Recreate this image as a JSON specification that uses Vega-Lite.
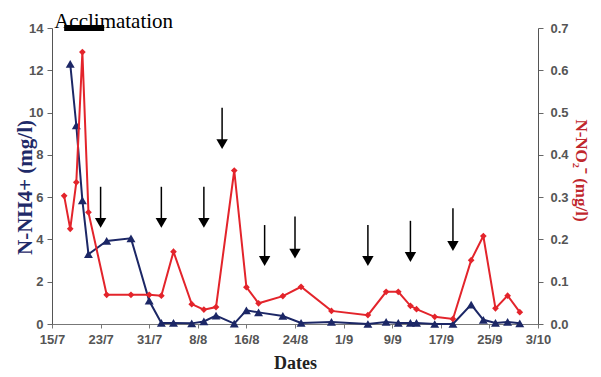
{
  "$schema": "https://vega.github.io/schema/vega-lite/v6.json",
  "width": 486,
  "height": 296,
  "autosize": {"type": "none"},
  "padding": {"left": 52, "top": 28, "right": 63, "bottom": 53},
  "background": "white",
  "config": {"view": {"stroke": null}, "font": "Liberation Sans"},
  "datasets": {
    "nh4": [
      {"date": "2007-07-18", "nh4": 12.3},
      {"date": "2007-07-19", "nh4": 9.4},
      {"date": "2007-07-20", "nh4": 5.85},
      {"date": "2007-07-21", "nh4": 3.3},
      {"date": "2007-07-24", "nh4": 3.93},
      {"date": "2007-07-28", "nh4": 4.05},
      {"date": "2007-07-31", "nh4": 1.1},
      {"date": "2007-08-02", "nh4": 0.05},
      {"date": "2007-08-04", "nh4": 0.05},
      {"date": "2007-08-07", "nh4": 0.03},
      {"date": "2007-08-09", "nh4": 0.12},
      {"date": "2007-08-11", "nh4": 0.4},
      {"date": "2007-08-14", "nh4": 0.02},
      {"date": "2007-08-16", "nh4": 0.65},
      {"date": "2007-08-18", "nh4": 0.55},
      {"date": "2007-08-22", "nh4": 0.38},
      {"date": "2007-08-25", "nh4": 0.05},
      {"date": "2007-08-30", "nh4": 0.1},
      {"date": "2007-09-05", "nh4": 0.0},
      {"date": "2007-09-08", "nh4": 0.1},
      {"date": "2007-09-10", "nh4": 0.05},
      {"date": "2007-09-12", "nh4": 0.05},
      {"date": "2007-09-13", "nh4": 0.05},
      {"date": "2007-09-16", "nh4": 0.0},
      {"date": "2007-09-19", "nh4": 0.0},
      {"date": "2007-09-22", "nh4": 0.92},
      {"date": "2007-09-24", "nh4": 0.2},
      {"date": "2007-09-26", "nh4": 0.05},
      {"date": "2007-09-28", "nh4": 0.1},
      {"date": "2007-09-30", "nh4": 0.03}
    ],
    "no2": [
      {"date": "2007-07-17", "no2": 0.303},
      {"date": "2007-07-18", "no2": 0.225},
      {"date": "2007-07-19", "no2": 0.335},
      {"date": "2007-07-20", "no2": 0.643},
      {"date": "2007-07-21", "no2": 0.264},
      {"date": "2007-07-24", "no2": 0.069},
      {"date": "2007-07-28", "no2": 0.069},
      {"date": "2007-07-31", "no2": 0.069},
      {"date": "2007-08-02", "no2": 0.067},
      {"date": "2007-08-04", "no2": 0.171},
      {"date": "2007-08-07", "no2": 0.047},
      {"date": "2007-08-09", "no2": 0.034},
      {"date": "2007-08-11", "no2": 0.04},
      {"date": "2007-08-14", "no2": 0.363},
      {"date": "2007-08-16", "no2": 0.087},
      {"date": "2007-08-18", "no2": 0.049},
      {"date": "2007-08-22", "no2": 0.066},
      {"date": "2007-08-25", "no2": 0.088},
      {"date": "2007-08-30", "no2": 0.031},
      {"date": "2007-09-05", "no2": 0.021},
      {"date": "2007-09-08", "no2": 0.076},
      {"date": "2007-09-10", "no2": 0.076},
      {"date": "2007-09-12", "no2": 0.043},
      {"date": "2007-09-13", "no2": 0.035},
      {"date": "2007-09-16", "no2": 0.017},
      {"date": "2007-09-19", "no2": 0.012},
      {"date": "2007-09-22", "no2": 0.151},
      {"date": "2007-09-24", "no2": 0.208},
      {"date": "2007-09-26", "no2": 0.037},
      {"date": "2007-09-28", "no2": 0.067},
      {"date": "2007-09-30", "no2": 0.028}
    ],
    "arrows": [
      {"date": "2007-07-23", "top": 6.49, "head": 4.78},
      {"date": "2007-08-02", "top": 6.49, "head": 4.78},
      {"date": "2007-08-09", "top": 6.49, "head": 4.78},
      {"date": "2007-08-12", "top": 10.23, "head": 8.51},
      {"date": "2007-08-19", "top": 4.68, "head": 2.98},
      {"date": "2007-08-24", "top": 5.08, "head": 3.33},
      {"date": "2007-09-05", "top": 4.68, "head": 2.98},
      {"date": "2007-09-12", "top": 4.88, "head": 3.17},
      {"date": "2007-09-19", "top": 5.47, "head": 3.69}
    ],
    "acclim": [
      {"date": "2007-07-17", "end": "2007-07-23T14:00:00Z", "level": 14, "label": "Acclimatation"}
    ]
  },
  "encoding": {
    "x": {
      "field": "date", "type": "temporal",
      "scale": {"type": "utc", "domain": [{"year": 2007, "month": 7, "date": 15, "utc": true}, {"year": 2007, "month": 10, "date": 3, "utc": true}]},
      "axis": {
        "title": "Dates",
        "values": [
          {"year": 2007, "month": 7, "date": 15, "utc": true},
          {"year": 2007, "month": 7, "date": 23, "utc": true},
          {"year": 2007, "month": 7, "date": 31, "utc": true},
          {"year": 2007, "month": 8, "date": 8, "utc": true},
          {"year": 2007, "month": 8, "date": 16, "utc": true},
          {"year": 2007, "month": 8, "date": 24, "utc": true},
          {"year": 2007, "month": 9, "date": 1, "utc": true},
          {"year": 2007, "month": 9, "date": 9, "utc": true},
          {"year": 2007, "month": 9, "date": 17, "utc": true},
          {"year": 2007, "month": 9, "date": 25, "utc": true},
          {"year": 2007, "month": 10, "date": 3, "utc": true}
        ],
        "labelExpr": "utcFormat(datum.value, '%-d/%-m')",
        "labelFont": "Liberation Sans", "labelFontSize": 13, "labelFontWeight": "bold", "labelColor": "#555555",
        "labelPadding": 5, "labelFlush": false, "labelOverlap": false,
        "tickSize": 4, "tickColor": "#777777", "domainColor": "#777777", "grid": false,
        "titleFont": "Liberation Serif", "titleFontSize": 18, "titleFontWeight": "bold", "titleColor": "#222222",
        "titleBaseline": "alphabetic", "titleY": 44
      }
    }
  },
  "layer": [
    {
      "layer": [
        {
          "data": {"name": "nh4"},
          "mark": {"type": "line", "color": "#1C2766", "strokeWidth": 2, "point": {"shape": "triangle-up", "filled": true, "size": 80, "color": "#1C2766"}},
          "encoding": {
            "y": {
              "field": "nh4", "type": "quantitative",
              "scale": {"domain": [0, 14], "nice": false},
              "axis": {
                "title": "N-NH4+ (mg/l)",
                "values": [0, 2, 4, 6, 8, 10, 12, 14], "format": "d",
                "labelFont": "Liberation Sans", "labelFontSize": 13, "labelFontWeight": "bold", "labelColor": "#555555",
                "labelPadding": 4, "tickSize": 5, "tickColor": "#666666", "domainColor": "#555555", "grid": false,
                "titleFont": "Liberation Serif", "titleFontSize": 21, "titleFontWeight": "bold", "titleColor": "#1F2A68",
                "titleAngle": 270, "titleBaseline": "middle", "titleX": -27, "titleY": 159
              }
            }
          }
        },
        {
          "data": {"name": "arrows"},
          "mark": {"type": "rule", "color": "black", "strokeWidth": 1.5},
          "encoding": {
            "y": {"field": "top", "type": "quantitative"},
            "y2": {"field": "head"}
          }
        },
        {
          "data": {"name": "arrows"},
          "mark": {"type": "point", "shape": "triangle-down", "filled": true, "size": 130, "color": "black", "opacity": 1},
          "encoding": {
            "y": {"field": "head", "type": "quantitative"}
          }
        },
        {
          "data": {"name": "acclim"},
          "mark": {"type": "rule", "color": "black", "strokeWidth": 6},
          "encoding": {
            "x2": {"field": "end"},
            "y": {"field": "level", "type": "quantitative"}
          }
        },
        {
          "data": {"name": "acclim"},
          "mark": {"type": "text", "font": "Liberation Serif", "fontSize": 21, "align": "left", "baseline": "alphabetic", "dx": -10, "color": "black"},
          "encoding": {
            "y": {"field": "level", "type": "quantitative"},
            "text": {"field": "label"}
          }
        }
      ]
    },
    {
      "data": {"name": "no2"},
      "mark": {"type": "line", "color": "#E3242B", "strokeWidth": 2, "point": {"shape": "diamond", "filled": true, "size": 45, "color": "#E3242B"}},
      "encoding": {
        "y": {
          "field": "no2", "type": "quantitative",
          "scale": {"domain": [0, 0.7], "nice": false},
          "axis": {
            "orient": "right",
            "title": "N-NO₂⁻ (mg/l)",
            "values": [0, 0.1, 0.2, 0.3, 0.4, 0.5, 0.6, 0.7], "format": ".1f",
            "labelFont": "Liberation Sans", "labelFontSize": 13, "labelFontWeight": "bold", "labelColor": "#555555",
            "labelPadding": 7, "tickSize": 5, "tickColor": "#666666", "domainColor": "#555555", "grid": false,
            "titleFont": "Liberation Serif", "titleFontSize": 17, "titleFontWeight": "bold", "titleColor": "#C0272D",
            "titleAngle": 90, "titleBaseline": "middle", "titleX": 42, "titleY": 142
          }
        }
      }
    }
  ],
  "resolve": {"scale": {"y": "independent"}}
}
